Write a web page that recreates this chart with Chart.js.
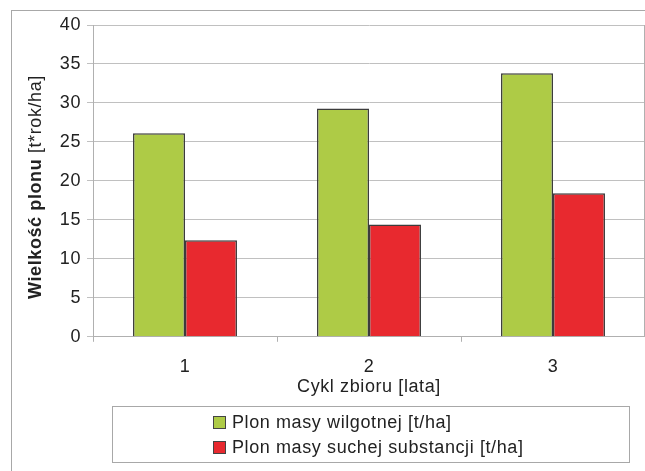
<!DOCTYPE html>
<html>
<head>
<meta charset="utf-8">
<script src="https://cdn.jsdelivr.net/npm/chart.js@4.4.0/dist/chart.umd.min.js"></script>
<style>
html, body { margin: 0; padding: 0; background: #fff; }
#wrap { width: 645px; height: 471px; position: relative; }
</style>
</head>
<body>
<div id="wrap"><canvas id="myChart"></canvas></div>
<script>
// data
const cycles = ['1', '2', '3'];
const wetYield = [26.1, 29.3, 33.8];
const dryYield = [12.4, 14.4, 18.4];
const seriesLabels = ['Plon masy wilgotnej [t/ha]', 'Plon masy suchej substancji [t/ha]'];
const seriesColors = ['#AECB46', '#E8292F'];
const yMax = 40;
const yStep = 5;
const yTitleBold = 'Wielkość plonu';
const yTitleRest = ' [t*rok/ha]';
const xTitle = 'Cykl zbioru [lata]';

const FONT = "'Liberation Sans', Arial, sans-serif";
const TEXT = '#222';
const SPACING = '0.6px'; // the original text is drawn a bit wide

// frame, right border, mixed-weight y title and boxed legend
const decor = {
    id: 'decor',
    beforeDraw(chart) {
        chart.ctx.letterSpacing = SPACING;
    },
    afterDraw(chart) {
        const ctx = chart.ctx;
        const a = chart.chartArea;
        ctx.save();
        ctx.letterSpacing = SPACING;
        // outer frame (cut by the canvas on right/bottom)
        ctx.strokeStyle = '#a8a8a8';
        ctx.lineWidth = 1;
        ctx.strokeRect(11.5, 10.5, 700, 600);
        // right edge of plot
        ctx.strokeStyle = '#b0b0b0';
        ctx.beginPath();
        ctx.moveTo(a.right - 0.5, a.top);
        ctx.lineTo(a.right - 0.5, a.bottom);
        ctx.stroke();

        // y title, bold part + normal part
        ctx.fillStyle = TEXT;
        ctx.textBaseline = 'middle';
        ctx.textAlign = 'left';
        ctx.font = 'bold 18px ' + FONT;
        const w1 = ctx.measureText(yTitleBold).width;
        ctx.font = '18px ' + FONT;
        const w2 = ctx.measureText(yTitleRest).width;
        ctx.save();
        ctx.translate(36, 187);
        ctx.rotate(-Math.PI / 2);
        const start = -(w1 + w2) / 2;
        ctx.font = 'bold 18px ' + FONT;
        ctx.fillText(yTitleBold, start, 0);
        ctx.font = '18px ' + FONT;
        ctx.fillText(yTitleRest, start + w1, 0);
        ctx.restore();

        // legend box
        ctx.strokeStyle = '#a8a8a8';
        ctx.strokeRect(112.5, 406.5, 517, 56);
        chart.data.datasets.forEach((ds, i) => {
            const y = 422 + i * 25;
            ctx.fillStyle = ds.backgroundColor;
            ctx.fillRect(213, y - 6, 12, 12);
            ctx.strokeStyle = '#444';
            ctx.strokeRect(213.5, y - 5.5, 12, 12);
            ctx.fillStyle = TEXT;
            ctx.font = '18px ' + FONT;
            ctx.fillText(ds.label, 232, y + 1);
        });
        ctx.restore();
    }
};

const ctx = document.getElementById('myChart').getContext('2d');
new Chart(ctx, {
    type: 'bar',
    data: {
        labels: cycles,
        datasets: [
            { label: seriesLabels[0], data: wetYield, backgroundColor: seriesColors[0] },
            { label: seriesLabels[1], data: dryYield, backgroundColor: seriesColors[1] }
        ].map(ds => Object.assign(ds, {
            borderColor: '#3c3c3c',
            borderWidth: 1.5,
            barPercentage: 1,
            categoryPercentage: 0.565
        }))
    },
    options: {
        responsive: true,
        maintainAspectRatio: false,
        animation: false,
        layout: { padding: { left: 0, right: 0, top: 25, bottom: 73 } },
        scales: {
            x: {
                offset: true,
                grid: { offset: true, drawOnChartArea: false, tickLength: 5, color: '#b0b0b0' },
                border: { color: '#b0b0b0' },
                ticks: { color: TEXT, font: { family: FONT, size: 18 }, padding: 14 },
                title: { display: true, text: xTitle, color: TEXT, font: { family: FONT, size: 18 }, padding: { top: -15, bottom: 0 } }
            },
            y: {
                min: 0,
                max: yMax,
                ticks: { stepSize: yStep, color: TEXT, font: { family: FONT, size: 18 }, padding: 6 },
                grid: { color: '#c0c0c0', tickLength: 6 },
                border: { color: '#b0b0b0' },
                afterFit(scale) { scale.width = 93; }
            }
        },
        plugins: {
            legend: { display: false },
            tooltip: { enabled: false }
        }
    },
    plugins: [decor]
});
</script>
</body>
</html>
